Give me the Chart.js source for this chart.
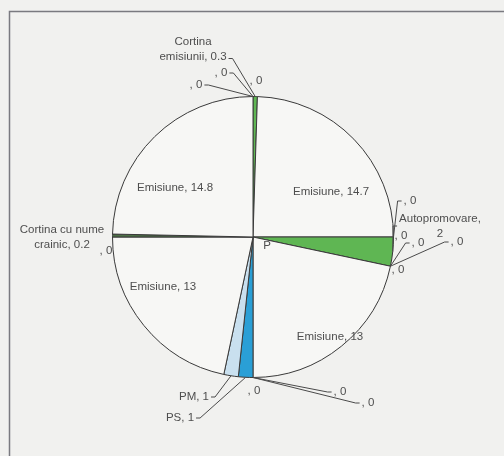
<!DOCTYPE html>
<html>
<head>
<meta charset="utf-8">
<script src="https://cdn.jsdelivr.net/npm/chart.js@4.4.1/dist/chart.umd.min.js"></script>
<style>
    html, body { margin: 0; padding: 0; background: #f1f1ef; }
    #wrap { width: 504px; height: 456px; position: relative; }
</style>
</head>
<body>
<div id="wrap"><canvas id="pieChart" width="504" height="456"></canvas></div>
<script>
// Date: structura unei ore de emisie (minute), in ordinea feliilor
const categories = [
    'Cortina emisiunii', 'Emisiune', '', '', 'Autopromovare', '', '', '',
    'Emisiune', '', '', '', 'PS', 'PM', 'Emisiune', 'Cortina cu nume crainic',
    '', 'Emisiune', '', '', ''
];
const values = [
    0.3, 14.7, 0, 0, 2, 0, 0, 0,
    13, 0, 0, 0, 1, 1, 13, 0.2,
    0, 14.8, 0, 0, 0
];

// Culori felii
const GREEN = '#5fb653';
const sliceColors = [
    GREEN, '#f7f7f5', '#fff', '#fff', GREEN, '#fff', '#fff', '#fff',
    '#f7f7f5', '#fff', '#fff', '#fff', '#2a9fd6', '#c9e0ef', '#f7f7f5', '#4d7046',
    '#fff', '#f7f7f5', '#fff', '#fff', '#fff'
];

// Pozitia etichetelor fata de centrul placintei (px), latime maxima pentru rupere
const labelSpots = [
    { dx: -60, dy: -188, w: 80, leader: 'right', tail: 'last' },
    { dx: 78, dy: -45 },
    { dx: 157, dy: -36, leader: 'left' },
    { dx: 148, dy: -1 },
    { dx: 187, dy: -11, w: 82, leader: 'left' },
    { dx: 165, dy: 6, leader: 'left' },
    { dx: 204, dy: 5, leader: 'left' },
    { dx: 145, dy: 33 },
    { dx: 77, dy: 100 },
    { dx: 1, dy: 154 },
    { dx: 87, dy: 155, leader: 'left' },
    { dx: 115, dy: 166, leader: 'left' },
    { dx: -73, dy: 181, leader: 'right' },
    { dx: -59, dy: 160, leader: 'right' },
    { dx: -90, dy: 50 },
    { dx: -191, dy: 0, w: 95 },
    { dx: -147, dy: 14 },
    { dx: -78, dy: -49 },
    { dx: -57, dy: -152, leader: 'right' },
    { dx: -32, dy: -164, leader: 'right' },
    { dx: 3, dy: -156 }
];

function wrapText(ctx, text, maxW) {
    const words = text.split(' ');
    const lines = [];
    let cur = '';
    words.forEach(w => {
        const test = cur ? cur + ' ' + w : w;
        if (cur && ctx.measureText(test).width > maxW) {
            lines.push(cur);
            cur = w;
        } else {
            cur = test;
        }
    });
    if (cur) lines.push(cur);
    return lines;
}

// Fundal si rama
const paperFrame = {
    id: 'paperFrame',
    beforeDraw(chart) {
        const ctx = chart.ctx;
        ctx.save();
        ctx.fillStyle = '#f1f1ef';
        ctx.fillRect(0, 0, chart.width, chart.height);
        ctx.strokeStyle = '#7a7a80';
        ctx.lineWidth = 1.5;
        ctx.beginPath();
        ctx.moveTo(9.5, chart.height);
        ctx.lineTo(9.5, 11.5);
        ctx.lineTo(chart.width, 11.5);
        ctx.stroke();
        ctx.restore();
    }
};

// Etichete cu linii de legatura
const pieLabels = {
    id: 'pieLabels',
    afterDatasetsDraw(chart) {
        const ctx = chart.ctx;
        const meta = chart.getDatasetMeta(0);
        const lh = 15;
        ctx.save();
        ctx.font = '11.5px "Liberation Sans", Arial, sans-serif';
        ctx.textAlign = 'center';
        ctx.textBaseline = 'middle';
        ctx.lineWidth = 1;
        ctx.strokeStyle = '#4a4a4a';
        ctx.fillStyle = '#4e4e4e';
        meta.data.forEach((arc, i) => {
            const spot = labelSpots[i];
            const p = arc.getProps(['x', 'y', 'startAngle', 'endAngle', 'outerRadius'], true);
            const mid = (p.startAngle + p.endAngle) / 2;
            const text = (categories[i] ? categories[i] + ', ' : ', ') + values[i];
            const lines = wrapText(ctx, text, spot.w || 999);
            const cx = p.x + spot.dx;
            const cy = p.y + spot.dy;
            const top = cy - (lines.length - 1) * lh / 2;

            if (spot.leader) {
                const sx = p.x + Math.cos(mid) * p.outerRadius;
                const sy = p.y + Math.sin(mid) * p.outerRadius;
                let ly = cy;
                let lw = Math.max(...lines.map(l => ctx.measureText(l).width));
                if (spot.tail === 'last') {
                    ly = top + (lines.length - 1) * lh + 2;
                    lw = ctx.measureText(lines[lines.length - 1]).width;
                }
                const dir = spot.leader === 'left' ? -1 : 1;
                const ex = cx + dir * (lw / 2 + 2);
                ctx.beginPath();
                ctx.moveTo(sx, sy);
                ctx.lineTo(ex - dir * -4, ly);
                ctx.lineTo(ex, ly);
                ctx.stroke();
            }
            lines.forEach((l, k) => ctx.fillText(l, cx, top + k * lh));
        });
        // litera ramasa in scan langa centru
        ctx.fillText('P', meta.data[0].x + 14, meta.data[0].y + 9);
        ctx.restore();
    }
};

const pieCtx = document.getElementById('pieChart').getContext('2d');
new Chart(pieCtx, {
    type: 'pie',
    data: {
        labels: categories,
        datasets: [{
            data: values,
            backgroundColor: sliceColors,
            borderColor: '#3a3a3a',
            borderWidth: 1
        }]
    },
    options: {
        responsive: false,
        animation: false,
        layout: {
            padding: { left: 112, right: 110, top: 96, bottom: 78 }
        },
        plugins: {
            legend: { display: false },
            tooltip: { enabled: false }
        }
    },
    plugins: [paperFrame, pieLabels]
});
</script>
</body>
</html>
